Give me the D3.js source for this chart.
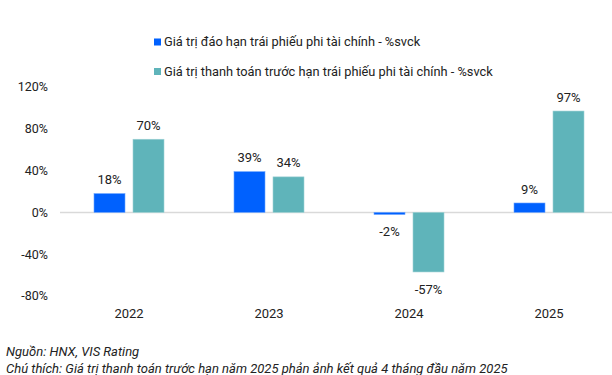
<!DOCTYPE html>
<html>
<head>
<meta charset="utf-8">
<script src="https://cdn.jsdelivr.net/npm/d3@7"></script>
<style>
  body { margin: 0; background: #fff; }
  svg { display: block; font-family: Roboto, "Noto Sans", sans-serif; }
</style>
</head>
<body>
<div class="container"></div>
<script>
const WIDTH = 612;
const HEIGHT = 375;

// data
const years = ["2022", "2023", "2024", "2025"];
const maturity = [18, 39, -2, 9];
const prepayment = [70, 34, -57, 97];
const yTicks = [120, 80, 40, 0, -40, -80];
const seriesNames = [
    "Giá trị đáo hạn trái phiếu phi tài chính - %svck",
    "Giá trị thanh toán trước hạn trái phiếu phi tài chính - %svck"
];
const colors = ["#0061fe", "#5fb4ba"];

var xScale = d3.scaleBand()
    .domain(years)
    .range([59, 619]);

var yScale = d3.scaleLinear()
    .domain([-80, 120])
    .range([296, 87]);

var series = [maturity, prepayment];

var translate = function(x, y){
    return "translate(" + x + "," + y + ")";
};

var svg = d3.select(".container").append("svg")
    .attr("width", WIDTH)
    .attr("height", HEIGHT);

// y tick labels (no axis line)
svg.append("g").selectAll("text")
    .data(yTicks)
    .enter()
    .append("text")
    .attr("x", 48)
    .attr("y", function(d){ return yScale(d); })
    .attr("dy", "0.35em")
    .attr("text-anchor", "end")
    .attr("font-size", 12.5)
    .attr("fill", "#222")
    .text(function(d){ return d + "%"; });

// zero line
svg.append("line")
    .attr("x1", 60)
    .attr("x2", WIDTH)
    .attr("y1", yScale(0))
    .attr("y2", yScale(0))
    .attr("stroke", "#d9d9d9")
    .attr("stroke-width", 1.5);

var barW = 31;
var gap = 8;

series.forEach(function(vals, s){
    var off = s === 0 ? -(gap / 2 + barW) : gap / 2;
    var g = svg.append("g");
    g.selectAll("rect")
        .data(vals)
        .enter()
        .append("rect")
        .attr("x", function(d, i){ return xScale(years[i]) + xScale.bandwidth() / 2 + off; })
        .attr("y", function(d){ return yScale(Math.max(d, 0)); })
        .attr("width", barW)
        .attr("height", function(d){ return Math.abs(yScale(d) - yScale(0)); })
        .attr("fill", colors[s])
        .attr("stroke", s === 0 ? "#6aa3ff" : "#9fd2d5")
        .attr("stroke-width", 0.6);

    g.selectAll("text")
        .data(vals)
        .enter()
        .append("text")
        .attr("x", function(d, i){ return xScale(years[i]) + xScale.bandwidth() / 2 + off + barW / 2; })
        .attr("y", function(d){ return d >= 0 ? yScale(d) - 14 : yScale(d) + 17; })
        .attr("dy", "0.35em")
        .attr("text-anchor", "middle")
        .attr("font-size", 13)
        .attr("fill", "#222")
        .text(function(d){ return d + "%"; });
});

// category labels
svg.append("g").selectAll("text")
    .data(years)
    .enter()
    .append("text")
    .attr("x", function(d){ return xScale(d) + xScale.bandwidth() / 2; })
    .attr("y", 313)
    .attr("dy", "0.35em")
    .attr("text-anchor", "middle")
    .attr("font-size", 13)
    .attr("fill", "#222")
    .text(function(d){ return d; });

// legend
var legend = svg.append("g").attr("transform", translate(154, 42));
seriesNames.forEach(function(name, i){
    var row = legend.append("g").attr("transform", translate(0, i * 29.5));
    row.append("rect")
        .attr("x", 0)
        .attr("y", -3.5)
        .attr("width", 7)
        .attr("height", 7)
        .attr("fill", colors[i]);
    row.append("text")
        .attr("x", 10)
        .attr("y", 0)
        .attr("dy", "0.35em")
        .attr("font-size", 12.8)
        .attr("fill", "#222")
        .text(name);
});

// notes
var notes = ["Nguồn: HNX, VIS Rating",
    "Chú thích: Giá trị thanh toán trước hạn năm 2025 phản ảnh kết quả 4 tháng đầu năm 2025"];
svg.append("g").selectAll("text")
    .data(notes)
    .enter()
    .append("text")
    .attr("x", 6)
    .attr("y", function(d, i){ return 351 + i * 17; })
    .attr("dy", "0.35em")
    .attr("font-size", 13)
    .attr("font-style", "italic")
    .attr("fill", "#222")
    .text(function(d){ return d; });
</script>
</body>
</html>
